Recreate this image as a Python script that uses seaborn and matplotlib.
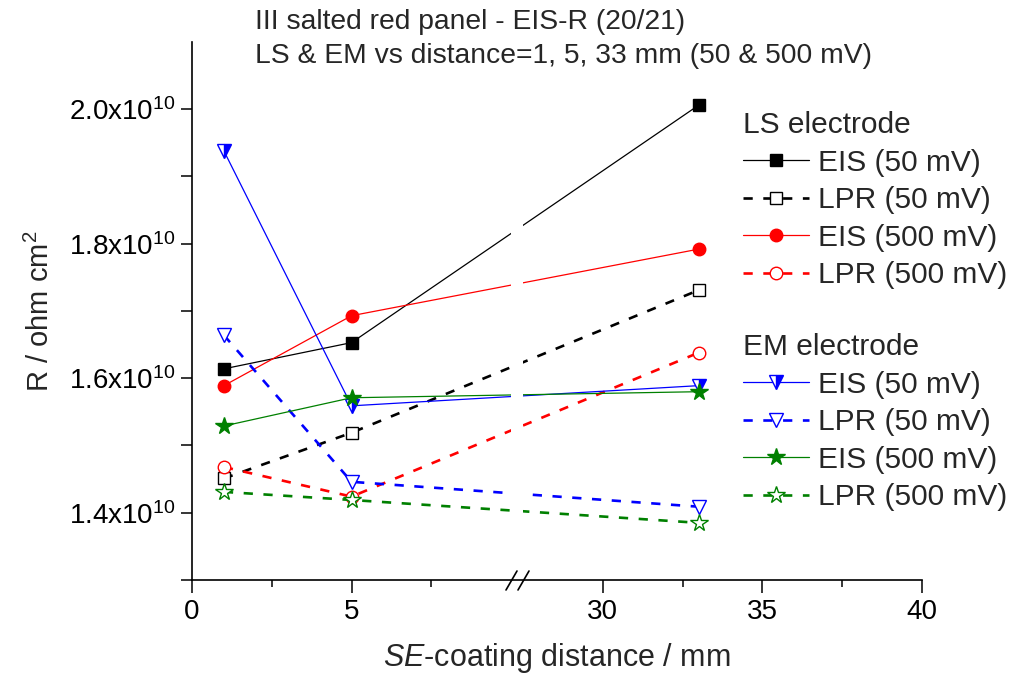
import numpy as np
import pandas as pd
import matplotlib
matplotlib.use("Agg")
import matplotlib.pyplot as plt
import seaborn as sns

# ---------------- data ----------------
distance = [1, 5, 33]
ls_eis_50 = [1.614e10, 1.653e10, 2.006e10]
ls_lpr_50 = [1.451e10, 1.519e10, 1.731e10]
ls_eis_500 = [1.589e10, 1.693e10, 1.792e10]
ls_lpr_500 = [1.468e10, 1.424e10, 1.638e10]
em_eis_50 = [1.938e10, 1.559e10, 1.589e10]
em_lpr_50 = [1.664e10, 1.446e10, 1.409e10]
em_eis_500 = [1.529e10, 1.571e10, 1.580e10]
em_lpr_500 = [1.431e10, 1.419e10, 1.385e10]

series_labels = ["EIS (50 mV)", "LPR (50 mV)", "EIS (500 mV)", "LPR (500 mV)"]
group_titles = ["LS electrode", "EM electrode"]
ytick_values = [1.4e10, 1.6e10, 1.8e10, 2.0e10]
ytick_labels = ["1.4x10$^{10}$", "1.6x10$^{10}$", "1.8x10$^{10}$", "2.0x10$^{10}$"]
xtick_values = [0, 5, 30, 35, 40]
xtick_labels = ["0", "5", "30", "35", "40"]
title_lines = ["III salted red panel - EIS-R (20/21)",
               "LS & EM vs distance=1, 5, 33 mm (50 & 500 mV)"]
xlabel = r"$\it{SE}$-coating distance / mm"
ylabel = r"R / ohm cm$^2$"

# ---------------- style ----------------
sns.set_theme(style="ticks")
plt.rcParams["font.family"] = ["Liberation Sans", "DejaVu Sans"]
plt.rcParams["mathtext.fontset"] = "custom"
plt.rcParams["mathtext.rm"] = "Liberation Sans"
plt.rcParams["mathtext.it"] = "Liberation Sans:italic"

BRK_LO, BRK_HI, GAP = 10.0, 27.5, 0.375


def fwd(x):
    x = np.asarray(x, dtype=float)
    return np.where(x <= BRK_LO, x,
                    np.where(x >= BRK_HI, x - BRK_HI + BRK_LO + GAP,
                             BRK_LO + (x - BRK_LO) * GAP / (BRK_HI - BRK_LO)))


def inv(y):
    y = np.asarray(y, dtype=float)
    return np.where(y <= BRK_LO, y,
                    np.where(y >= BRK_LO + GAP, y - BRK_LO - GAP + BRK_HI,
                             BRK_LO + (y - BRK_LO) * (BRK_HI - BRK_LO) / GAP))


fig = plt.figure(figsize=(10.18, 6.73), dpi=100)
ax = fig.add_axes([192 / 1018, 1 - 580 / 673, 730 / 1018, 538 / 673])
ax.set_xscale("function", functions=(fwd, inv))

solid_lw = 0.9
dash_lw = 1.9
dash = (0, (3.5, 4.0))

series = [
    (ls_eis_50, dict(color="black", marker="s", markersize=8, markerfacecolor="black", linestyle="-", linewidth=solid_lw)),
    (ls_lpr_50, dict(color="black", marker="s", markersize=8, markerfacecolor="white", linestyle=dash, linewidth=dash_lw)),
    (ls_eis_500, dict(color="red", marker="o", markersize=9, markerfacecolor="red", linestyle="-", linewidth=solid_lw)),
    (ls_lpr_500, dict(color="red", marker="o", markersize=9, markerfacecolor="white", linestyle=dash, linewidth=dash_lw)),
    (em_eis_50, dict(color="blue", marker="v", markersize=10, markerfacecolor="blue", fillstyle="right",
                     markerfacecoloralt="white", linestyle="-", linewidth=solid_lw)),
    (em_lpr_50, dict(color="blue", marker="v", markersize=10, markerfacecolor="white", linestyle=dash, linewidth=dash_lw)),
    (em_eis_500, dict(color="green", marker="*", markersize=13, markerfacecolor="green", linestyle="-", linewidth=solid_lw)),
    (em_lpr_500, dict(color="green", marker="*", markersize=13, markerfacecolor="white", linestyle=dash, linewidth=dash_lw)),
]
labels_all = series_labels + series_labels

for (vals, kw), lab in zip(series, labels_all):
    df = pd.DataFrame({"distance": distance, "R": vals})
    sns.lineplot(data=df, x="distance", y="R", ax=ax, label=lab,
                 markeredgecolor=kw["color"], markeredgewidth=1.0, **kw)

# gap in lines at the axis break
ax.axvspan(BRK_LO, BRK_HI, ymin=0.005, ymax=1, color="white", zorder=3, lw=0)

ax.set_xlim(0, 40)
ax.set_ylim(1.3e10, 2.1e10)
ax.set_xticks(xtick_values)
ax.set_xticklabels(xtick_labels)
ax.set_xticks([2.5, 7.5, 32.5, 37.5], minor=True)
ax.set_yticks(ytick_values)
ax.set_yticklabels(ytick_labels)
ax.set_yticks([1.3e10, 1.5e10, 1.7e10, 1.9e10], minor=True)

for s in ["top", "right"]:
    ax.spines[s].set_visible(False)
for s in ["left", "bottom"]:
    ax.spines[s].set_linewidth(1.2)
    ax.spines[s].set_color("black")

ax.tick_params(axis="both", which="both", direction="out", colors="black", width=1.1, labelsize=20)
ax.tick_params(axis="x", which="major", length=9, pad=5)
ax.tick_params(axis="x", which="minor", length=5)
ax.tick_params(axis="y", which="both", length=8, pad=4)

ax.set_xlabel(xlabel, fontsize=22, labelpad=11)
ax.set_ylabel(ylabel, fontsize=21, labelpad=10)

# break marks on the x axis
for x0 in [506, 518]:
    ax.plot([(x0 - 192) / 730, (x0 + 11 - 192) / 730], [-10 / 538, 9 / 538],
            transform=ax.transAxes, color="black", lw=1.2, clip_on=False, zorder=5)

leg = ax.get_legend()
if leg is not None:
    leg.remove()
handles, labels = ax.get_legend_handles_labels()

leg_kw = dict(loc="upper left", frameon=False, fontsize=21.5, title_fontsize=21.5,
              handlelength=2.2, handletextpad=0.3, labelspacing=0.32,
              borderpad=0, borderaxespad=0, alignment="left", numpoints=1)
fig.legend(handles[:4], labels[:4], title=group_titles[0],
           bbox_to_anchor=(743 / 1018, 1 - 111 / 673), **leg_kw)
fig.legend(handles[4:], labels[4:], title=group_titles[1],
           bbox_to_anchor=(743 / 1018, 1 - 333 / 673), **leg_kw)

fig.text(255 / 1018, 1 - 22 / 673, title_lines[0], ha="left", va="center", fontsize=20.3)
fig.text(255 / 1018, 1 - 56 / 673, title_lines[1], ha="left", va="center", fontsize=20.3)

fig.savefig("out.png", dpi=100)
